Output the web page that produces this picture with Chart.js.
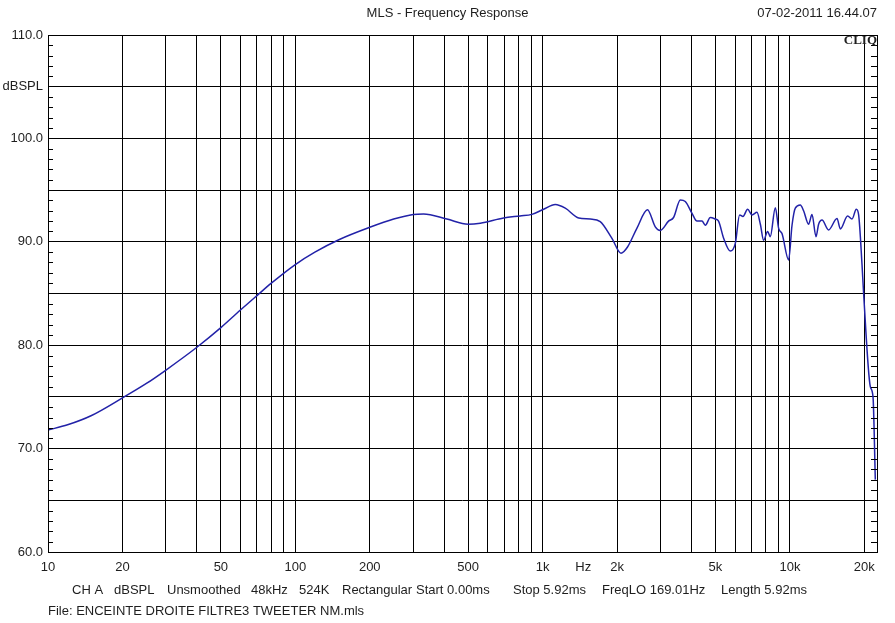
<!DOCTYPE html>
<html>
<head>
<meta charset="utf-8">
<script src="https://cdn.jsdelivr.net/npm/chart.js@4/dist/chart.umd.min.js"></script>
<style>
  body { margin: 0; background: #fff; }
  #chart { display: block; }
</style>
</head>
<body>
<canvas id="chart" width="895" height="623"></canvas>
<script>
// frequency response (Hz / dB SPL)
const freqs = [10, 12, 15, 20, 25, 30, 40, 50, 60, 70,
  80, 100, 120, 150, 200, 250, 300, 330, 410, 500,
  560, 695, 810, 905, 1010, 1125, 1235, 1400, 1560, 1710,
  1905, 2075, 2205, 2405, 2655, 2855, 2990, 3230, 3385, 3605,
  3775, 4020, 4210, 4410, 4550, 4765, 4990, 5145, 5395, 5740,
  6015, 6260, 6460, 6745, 7030, 7360, 7595, 7830, 8125, 8330,
  8730, 9005, 9290, 9880, 10200, 10515, 11015, 11360, 11900, 12285,
  12750, 13065, 13485, 14335, 15505, 15990, 17115, 17830, 18560, 18965,
  19575, 19865, 21140, 21680, 22150];
const dbs = [71.8, 72.3, 73.2, 74.9, 76.3, 77.6, 79.8, 81.7, 83.4, 84.8,
  86.0, 87.8, 89.0, 90.2, 91.4, 92.2, 92.65, 92.7, 92.2, 91.7,
  91.8, 92.3, 92.5, 92.65, 93.15, 93.6, 93.25, 92.3, 92.2, 91.95,
  90.35, 88.9, 89.5, 91.3, 93.1, 91.45, 91.1, 92.0, 92.35, 94.05,
  93.9, 92.75, 92.0, 92.0, 91.6, 92.35, 92.2, 92.0, 90.35, 89.1,
  89.85, 92.6, 92.45, 93.15, 92.6, 92.85, 91.7, 90.15, 91.0, 90.5,
  93.3, 91.3, 90.8, 88.25, 91.6, 93.25, 93.55, 93.0, 91.7, 92.65,
  90.5, 91.7, 92.1, 91.15, 92.25, 91.25, 92.5, 92.2, 93.15, 92.6,
  87.75, 85.0, 76.0, 75.0, 67.0];

// vertical grid positions and the labelled ones
const xGrid = [20, 30, 40, 50, 60, 70, 80, 90, 100, 200, 300, 400, 500, 600, 700, 800, 900,
  1000, 2000, 3000, 4000, 5000, 6000, 7000, 8000, 9000, 10000, 20000];
const xLabels = { 10: "10", 20: "20", 50: "50", 100: "100", 200: "200", 500: "500",
  1000: "1k", 1460: "Hz", 2000: "2k", 5000: "5k", 10000: "10k", 20000: "20k" };
const unitTick = 1460;

const title = "MLS - Frequency Response";
const stamp = "07-02-2011 16.44.07";
const footerItems = [
  ["CH A", 72], ["dBSPL", 114], ["Unsmoothed", 167], ["48kHz", 251], ["524K", 299],
  ["Rectangular", 342], ["Start 0.00ms", 416], ["Stop 5.92ms", 513],
  ["FreqLO 169.01Hz", 602], ["Length 5.92ms", 721]
];
const fileLine = "File: ENCEINTE DROITE FILTRE3 TWEETER NM.mls";

const textColor = "#1e1e1e";
const font = "13px 'Liberation Sans', Arial, sans-serif";

const decor = {
  id: "decor",
  afterDraw(chart) {
    const ctx = chart.ctx;
    const a = chart.chartArea;
    const y = chart.scales.y;
    ctx.save();
    ctx.strokeStyle = "#000";
    ctx.lineWidth = 1;
    // 1 dB minor ticks on both sides
    ctx.beginPath();
    for (let v = 60; v <= 110; v++) {
      if (v % 5 === 0) continue;
      const py = Math.round(y.getPixelForValue(v)) + 0.5;
      ctx.moveTo(a.left, py); ctx.lineTo(a.left + 5, py);
      ctx.moveTo(a.right - 6, py); ctx.lineTo(a.right, py);
    }
    ctx.stroke();
    ctx.strokeRect(Math.round(a.left) + 0.5, Math.round(a.top) + 0.5,
      Math.round(a.right - a.left), Math.round(a.bottom - a.top));

    ctx.fillStyle = textColor;
    ctx.font = font;
    ctx.textBaseline = "middle";
    ctx.textAlign = "center";
    ctx.fillText(title, chart.width / 2, 13);
    ctx.textAlign = "right";
    ctx.fillText(stamp, a.right, 13);
    ctx.textAlign = "left";
    footerItems.forEach(([t, x]) => ctx.fillText(t, x, 590));
    ctx.fillText(fileLine, 48, 611);

    ctx.font = "bold 13px 'Liberation Serif', 'Times New Roman', serif";
    ctx.textAlign = "right";
    ctx.fillText("CLIQ", a.right, 41);
    ctx.restore();
  }
};

new Chart(document.getElementById("chart"), {
  type: "line",
  data: {
    datasets: [{
      data: freqs.map((f, i) => ({ x: f, y: dbs[i] })),
      borderColor: "#2222a8",
      borderWidth: 1.5,
      pointRadius: 0,
      cubicInterpolationMode: "monotone",
      fill: false
    }]
  },
  options: {
    responsive: false,
    animation: false,
    layout: { padding: { top: 35, right: 18, left: 0, bottom: 0 } },
    plugins: { legend: { display: false }, tooltip: { enabled: false } },
    scales: {
      x: {
        type: "logarithmic",
        min: 10,
        max: 22500,
        afterBuildTicks(scale) {
          scale.ticks = [10, ...xGrid, unitTick].sort((p, q) => p - q).map(v => ({ value: v }));
        },
        afterFit(scale) { scale.height = 71; },
        border: { display: false },
        grid: {
          drawTicks: false,
          color: ctx => (ctx.tick && (ctx.tick.value === unitTick || ctx.tick.value === 10)) ? "rgba(0,0,0,0)" : "#000",
          lineWidth: 1
        },
        ticks: {
          autoSkip: false,
          maxRotation: 0,
          padding: 8,
          color: textColor,
          font: { family: "'Liberation Sans', Arial, sans-serif", size: 13 },
          callback: function (value, index) {
            const v = this.getTicks()[index].value;
            return xLabels[v] || "";
          }
        }
      },
      y: {
        min: 60,
        max: 110,
        afterFit(scale) { scale.width = 48; },
        border: { display: false },
        grid: { drawTicks: false, color: "#000", lineWidth: 1 },
        ticks: {
          stepSize: 5,
          padding: 5,
          color: textColor,
          font: { family: "'Liberation Sans', Arial, sans-serif", size: 13 },
          callback: v => v === 105 ? "dBSPL" : (v % 10 === 0 ? v.toFixed(1) : "")
        }
      }
    }
  },
  plugins: [decor]
});
</script>
</body>
</html>
